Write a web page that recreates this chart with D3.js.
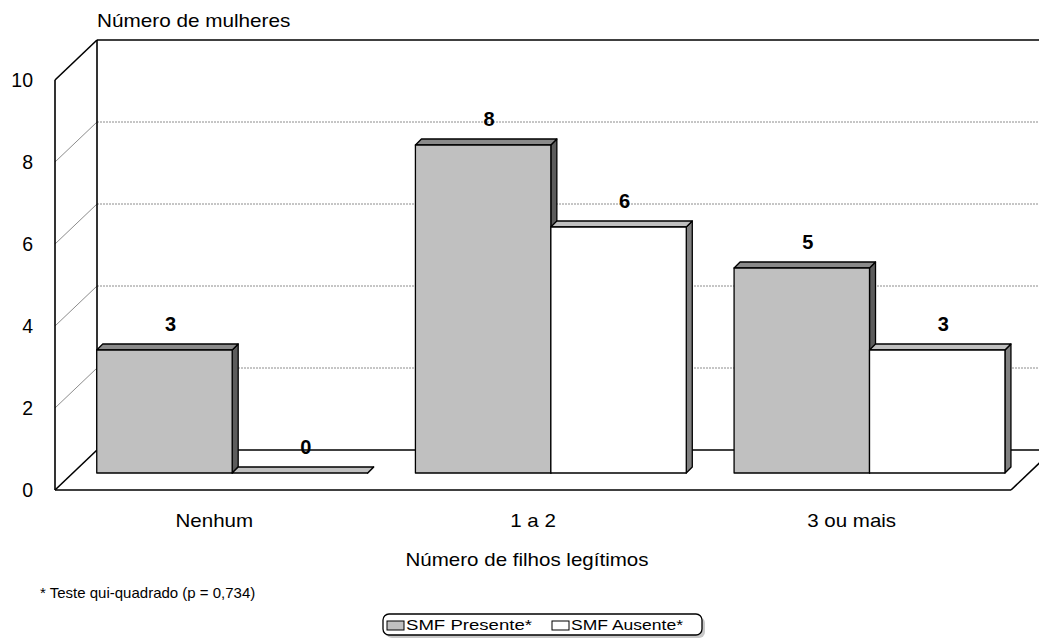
<!DOCTYPE html>
<html>
<head>
<meta charset="utf-8">
<script src="https://cdn.jsdelivr.net/npm/d3@7"></script>
<style>
  html, body { margin: 0; padding: 0; background: #fff; }
  svg { display: block; font-family: Arial, "Liberation Sans", sans-serif; }
</style>
</head>
<body>
<svg id="chart" width="1039" height="640"></svg>
<script>
// Data
const categories = ["Nenhum", "1 a 2", "3 ou mais"];
const seriesNames = ["SMF Presente*", "SMF Ausente*"];
const presente = [3, 8, 5];
const ausente = [0, 6, 3];
const yTicks = [0, 2, 4, 6, 8, 10];
const gridValues = [2, 4, 6, 8];
const yTitle = "Número de mulheres";
const xTitle = "Número de filhos legítimos";
const footnote = "* Teste qui-quadrado (p = 0,734)";

const values = [presente, ausente];
const colors = {
  "SMF Presente*": { front: "#c0c0c0", top: "#8a8a8a", side: "#5c5c5c" },
  "SMF Ausente*":  { front: "#ffffff", top: "#c0c0c0", side: "#808080" }
};

// 3D box geometry (front plane + depth offset)
const frontLeft = 55, frontRight = 1011, frontBase = 490;
const depthX = 42, depthY = 40;          // floor depth
const barPos = 0.425;                     // bar front face position along depth
const barDX = depthX * barPos, barDY = depthY * barPos;
const barThick = 6;                       // bar depth

const svg = d3.select("#chart");

const x = d3.scaleBand().domain(categories)
  .range([frontLeft, frontRight]).paddingInner(0.15).paddingOuter(0.075);
const sub = d3.scaleBand().domain(seriesNames).range([0, x.bandwidth()]);
const y = d3.scaleLinear().domain([0, 10]).range([frontBase, 80]);

const backRight = frontRight + depthX;
const backX = frontLeft + depthX;

function widen(sel, factor) {
  sel.each(function () {
    const len = this.getComputedTextLength();
    d3.select(this).attr("textLength", len * factor).attr("lengthAdjust", "spacingAndGlyphs");
  });
}

// Gridlines: back wall and left wall
const grid = svg.append("g");
grid.selectAll("line.back").data(gridValues).join("line")
  .attr("x1", backX).attr("x2", backRight)
  .attr("y1", d => y(d) - depthY).attr("y2", d => y(d) - depthY)
  .attr("stroke", "#8c8c8c").attr("stroke-width", 1).attr("stroke-dasharray", "2,1");
grid.selectAll("line.side").data(gridValues).join("line")
  .attr("x1", frontLeft).attr("y1", d => y(d))
  .attr("x2", backX).attr("y2", d => y(d) - depthY)
  .attr("stroke", "#8c8c8c").attr("stroke-width", 1);

// Walls and floor
const walls = svg.append("g").attr("fill", "none").attr("stroke", "#000").attr("stroke-width", 1.6);
const wallLines = [
  [[frontLeft, y(0)], [frontLeft, y(10)]],
  [[frontLeft, y(10)], [backX, y(10) - depthY]],
  [[backX, y(10) - depthY], [backRight, y(10) - depthY]],
  [[backX, y(10) - depthY], [backX, y(0) - depthY]],
  [[frontLeft, y(0)], [backX, y(0) - depthY]],
  [[backX, y(0) - depthY], [backRight, y(0) - depthY]],
  [[frontLeft, y(0)], [frontRight, y(0)]],
  [[frontRight, y(0)], [backRight, y(0) - depthY]]
];
walls.selectAll("path").data(wallLines).join("path").attr("d", d => d3.line()(d));

// Bars
const bars = svg.append("g");
const labels = [];
categories.forEach((cat, i) => {
  seriesNames.forEach((name, j) => {
    const v = values[j][i];
    const x0 = x(cat) + sub(name) + barDX;
    const x1 = x0 + sub.bandwidth();
    const base = y(0) - barDY;
    const top = y(v) - barDY;
    const c = colors[name];
    const g = bars.append("g").attr("stroke", "#000").attr("stroke-width", 1.3).attr("stroke-linejoin", "round");
    g.append("path").attr("fill", c.side)
      .attr("d", d3.line()([[x1, top], [x1 + barThick, top - barThick], [x1 + barThick, base - barThick], [x1, base]]) + "Z");
    g.append("path").attr("fill", c.top)
      .attr("d", d3.line()([[x0, top], [x1, top], [x1 + barThick, top - barThick], [x0 + barThick, top - barThick]]) + "Z");
    g.append("rect").attr("x", x0).attr("y", top).attr("width", x1 - x0).attr("height", base - top).attr("fill", c.front);
    labels.push({ v, x: (x0 + x1) / 2 + barThick, y: top - 19 });
  });
});

svg.append("g").selectAll("text").data(labels).join("text")
  .attr("x", d => d.x).attr("y", d => d.y)
  .attr("text-anchor", "middle").attr("font-weight", "bold").attr("font-size", 20)
  .text(d => d.v);

// Y axis (values on the front plane)
const yAxis = svg.append("g").attr("transform", `translate(${frontLeft},0)`)
  .call(d3.axisLeft(y).tickValues(yTicks).tickSize(0).tickPadding(22).tickFormat(d3.format("d")));
yAxis.select(".domain").remove();
yAxis.selectAll("text").attr("font-size", 19.5).attr("font-family", "Arial, 'Liberation Sans', sans-serif").attr("fill", "#000");

// Category labels
svg.append("g").selectAll("text").data(categories).join("text")
  .attr("x", d => x(d) + x.bandwidth() / 2).attr("y", 527)
  .attr("text-anchor", "middle").attr("font-size", 19).text(d => d)
  .call(widen, 1.08);

// Titles
svg.append("text").attr("x", backX).attr("y", 27).attr("font-size", 19).text(yTitle).call(widen, 1.09);
svg.append("text").attr("x", 527).attr("y", 566).attr("text-anchor", "middle").attr("font-size", 19).text(xTitle).call(widen, 1.08);
svg.append("text").attr("x", 40).attr("y", 598).attr("font-size", 15).text(footnote);

// Legend
const legend = svg.append("g");
legend.append("rect").attr("x", 386).attr("y", 617).attr("width", 319).attr("height", 21).attr("rx", 6)
  .attr("fill", "#c8c8c8");
legend.append("rect").attr("x", 383).attr("y", 614).attr("width", 319).attr("height", 21).attr("rx", 6)
  .attr("fill", "#fff").attr("stroke", "#000").attr("stroke-width", 1.3);
const legendItems = [
  { name: seriesNames[0], sx: 387, tx: 406, w: 126 },
  { name: seriesNames[1], sx: 552, tx: 571, w: 112 }
];
legendItems.forEach(it => {
  legend.append("rect").attr("x", it.sx).attr("y", 621).attr("width", 17).attr("height", 9)
    .attr("fill", colors[it.name].front).attr("stroke", "#000").attr("stroke-width", 1);
  legend.append("text").attr("x", it.tx).attr("y", 630).attr("font-size", 15)
    .attr("textLength", it.w).attr("lengthAdjust", "spacingAndGlyphs").text(it.name);
});
</script>
</body>
</html>
